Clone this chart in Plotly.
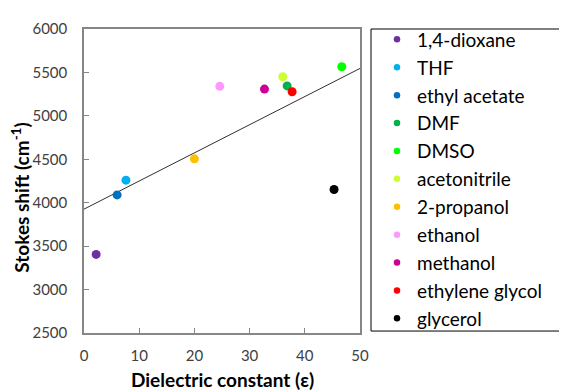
import plotly.graph_objects as go

solvents = ["1,4-dioxane", "THF", "ethyl acetate", "DMF", "DMSO", "acetonitrile",
            "2-propanol", "ethanol", "methanol", "ethylene glycol", "glycerol"]
dielectric = [2.2, 7.6, 6.0, 36.8, 46.7, 36.0, 20.0, 24.6, 32.7, 37.7, 45.3]
stokes = [3405, 4260, 4090, 5345, 5565, 5450, 4505, 5340, 5308, 5278, 4152]
colors = ["#7030A0", "#00B0F0", "#0070C0", "#00B050", "#00FF00", "#CCFF33",
          "#FFC000", "#FF99FF", "#CC0099", "#FF0000", "#000000"]

trend_intercept = 3926
trend_slope = 32.4
x_range = [0, 50]
y_range = [2500, 6000]
x_title = "<b>Dielectric constant (ε)</b>"
y_title = "<b>Stokes shift (cm<sup>-1</sup>)</b>"

FONT = "Lato"
OFF = 8  # page body margin
# plot area in screen pixels
PL, PR, PT, PB = 84, 360, 23, 333
W, H = 567, 392
L, T = PL - OFF, PT - OFF
PW, PH = PR - PL, PB - PT
R, B = W - L - PW, H - T - PH

fig = go.Figure()

fig.add_trace(go.Scatter(
    x=x_range, y=[trend_intercept + trend_slope * v for v in x_range],
    mode="lines", line=dict(color="#303030", width=1), showlegend=False, hoverinfo="skip"))

for name, xv, yv, c in zip(solvents, dielectric, stokes, colors):
    fig.add_trace(go.Scatter(x=[xv], y=[yv], mode="markers", name=name,
                             marker=dict(color=c, size=9), showlegend=False))

for i, (name, c) in enumerate(zip(solvents, colors)):
    fig.add_trace(go.Scatter(x=[None], y=[None], mode="markers", name=name,
                             legendgroup=f"g{i}",
                             marker=dict(color=c, size=6.5), showlegend=True))

fig.add_shape(type="rect", xref="paper", yref="paper",
              x0=(371 - PL) / PW, x1=(600 - PL) / PW,
              y0=(PB - 331) / PH, y1=(PB - 23) / PH,
              line=dict(color="#000000", width=1))

fig.add_annotation(text=x_title, xref="paper", yref="paper", x=0.5, y=(PB - 380) / PH,
                   xanchor="center", yanchor="middle", showarrow=False,
                   font=dict(family=FONT, size=19, color="#000000"))
fig.add_annotation(text=y_title, xref="paper", yref="paper", x=(21 - PL) / PW, y=(PB - 195) / PH,
                   xanchor="center", yanchor="middle", showarrow=False, textangle=-90,
                   font=dict(family=FONT, size=19, color="#000000"))

fig.update_layout(
    width=W, height=H,
    margin=dict(l=L, r=R, t=T, b=B),
    paper_bgcolor="white", plot_bgcolor="white",
    font=dict(family=FONT, color="#404040"),
    legend=dict(x=(418 - 41 - PL) / PW, y=1.028, xanchor="left", yanchor="top",
                font=dict(family=FONT, size=19, color="#000000"),
                traceorder="grouped", tracegroupgap=0.2, maxheight=1.0,
                bgcolor="rgba(0,0,0,0)", borderwidth=0),
    xaxis=dict(range=x_range, tickvals=[0, 10, 20, 30, 40, 50], ticks="inside",
               ticklen=5, tickcolor="#868686", showline=True, linecolor="#868686",
               linewidth=1.5, mirror=True, showgrid=False, zeroline=False,
               automargin=False, ticklabelstandoff=8,
               tickfont=dict(size=15, color="#404040")),
    yaxis=dict(range=y_range, tickvals=list(range(2500, 6001, 500)), ticks="inside",
               ticklen=5, tickcolor="#868686", showline=True, linecolor="#868686",
               linewidth=1.5, mirror=True, showgrid=False, zeroline=False,
               automargin=False, ticklabelstandoff=12,
               tickfont=dict(size=15, color="#404040")),
)

fig.write_html("out.html")
